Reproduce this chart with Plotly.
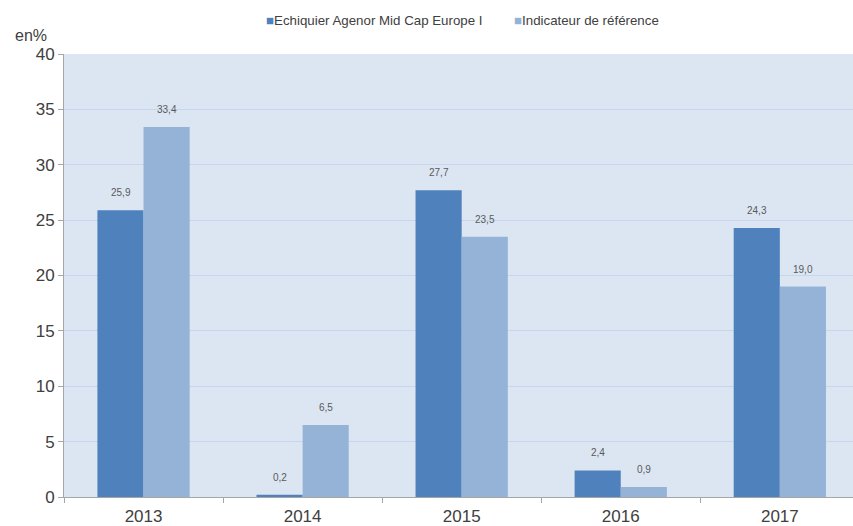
import plotly.graph_objects as go

years = ["2013", "2014", "2015", "2016", "2017"]
fund = [25.9, 0.2, 27.7, 2.4, 24.3]
bench = [33.4, 6.5, 23.5, 0.9, 19.0]
fund_name = "Echiquier Agenor Mid Cap Europe I"
bench_name = "Indicateur de référence"
fund_color = "#4f81bd"
bench_color = "#95b3d7"

def fmt(v):
    return f"{v:.1f}".replace(".", ",")

fig = go.Figure()
fig.add_trace(go.Bar(x=years, y=fund, name=fund_name, marker=dict(color=fund_color, line=dict(width=0)),
                     offsetgroup="a", showlegend=False))
fig.add_trace(go.Bar(x=years, y=bench, name=bench_name, marker=dict(color=bench_color, line=dict(width=0)),
                     offsetgroup="b", showlegend=False))

# data labels
for i, (a, b) in enumerate(zip(fund, bench)):
    fig.add_annotation(x=i, xshift=-23, y=a, yshift=17.5, text=fmt(a), showarrow=False,
                       font=dict(size=10, color="#595959"), xref="x", yref="y")
    fig.add_annotation(x=i, xshift=23, y=b, yshift=17.5, text=fmt(b), showarrow=False,
                       font=dict(size=10, color="#595959"), xref="x", yref="y")

# legend drawn as text items
legend_items = [(fund_name, fund_color, 264), (bench_name, bench_color, 512)]
for name, col, px in legend_items:
    fig.add_annotation(x=(px - 64) / 789, y=1 + (54 - 20) / 443, xref="paper", yref="paper",
                       text=f"<span style='color:{col}'>■</span>{name}", showarrow=False,
                       xanchor="left", yanchor="middle", font=dict(size=13.3, color="#404040"))

fig.add_annotation(x=(31 - 64) / 789, y=1 + (54 - 36) / 443, xref="paper", yref="paper", text="en%",
                   showarrow=False, font=dict(size=16, color="#404040"), xanchor="center", yanchor="middle")

fig.update_layout(
    width=853, height=526,
    margin=dict(l=64, r=0, t=54, b=29, autoexpand=False),
    paper_bgcolor="white", plot_bgcolor="#dce6f2",
    font=dict(family="Liberation Sans, Arial, sans-serif", color="#404040"),
    barmode="group", bargap=0.42, bargroupgap=0,
    xaxis=dict(range=[-0.5, 4.46], showline=True, linecolor="#a6a6a6", linewidth=1,
               ticks="outside", tickson="boundaries", ticklen=5, tickcolor="#a6a6a6",
               ticklabelstandoff=4, automargin=False,
               tickfont=dict(size=17, color="#404040"), showgrid=False),
    yaxis=dict(range=[0, 40], dtick=5, showline=True, linecolor="#a6a6a6", linewidth=1,
               ticks="outside", ticklen=5, tickcolor="#a6a6a6", gridcolor="#c5d6ee",
               zeroline=False, automargin=False, tickfont=dict(size=17, color="#404040")),
)

fig.write_html("out.html", config={"displayModeBar": False},
               post_script="document.body.style.margin='0';document.body.style.overflow='hidden';")
